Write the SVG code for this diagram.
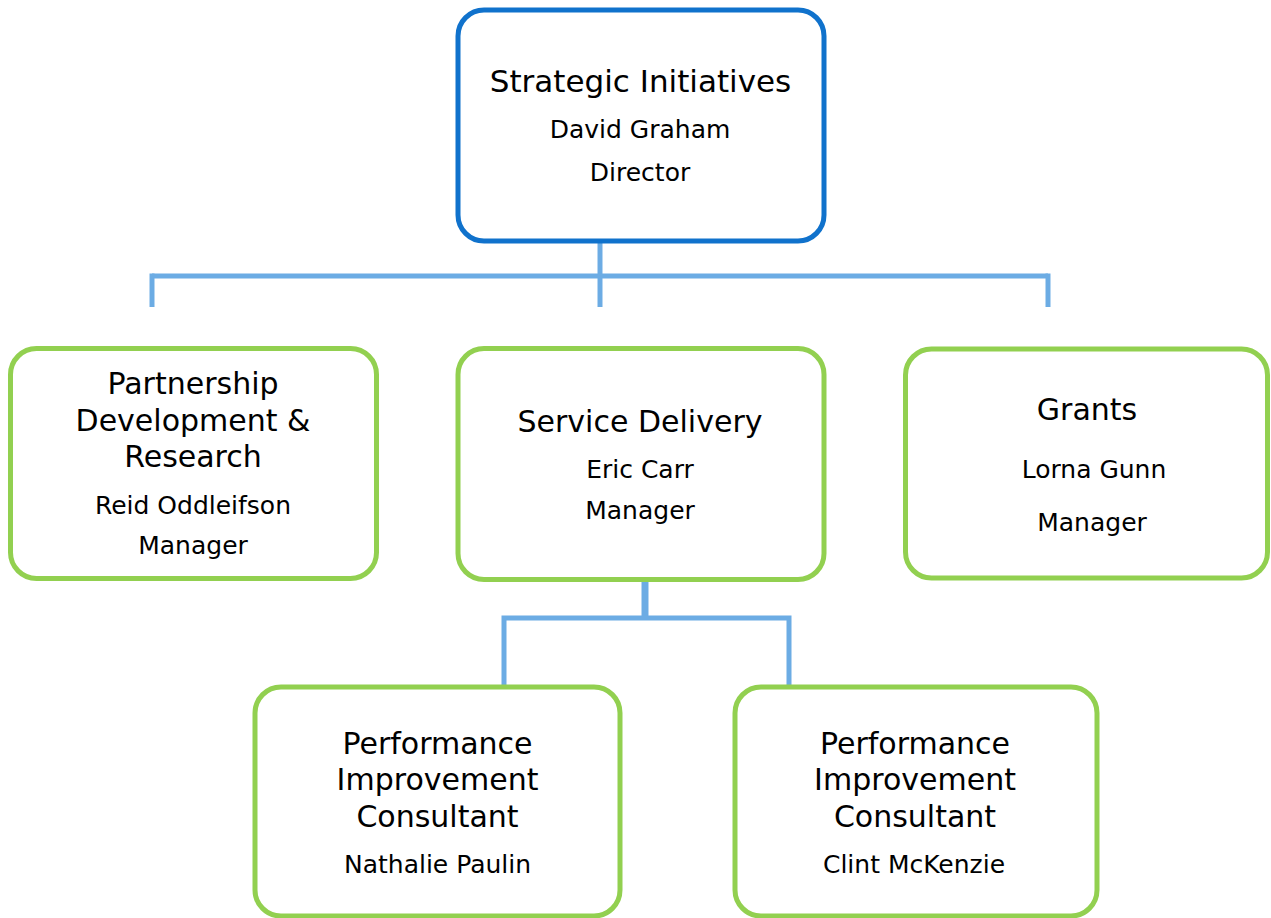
<svg xmlns="http://www.w3.org/2000/svg" width="1271" height="918" viewBox="0 0 1271 918">
  <style>
    .box { fill: #ffffff; stroke-width: 5; }
    .head { stroke: #1072CC; }
    .unit { stroke: #92D050; }
    .title { font-family: "DejaVu Sans", Verdana, sans-serif; font-size: 30px; fill: #000; text-anchor: middle; }
    .name { font-family: "DejaVu Sans", Verdana, sans-serif; font-size: 25px; fill: #000; text-anchor: middle; }
    .link { stroke: #6CACE4; stroke-width: 5; fill: none; }
    .trace { stroke: #6CACE4; stroke-width: 4; stroke-dasharray: 2 2; opacity: 0.4; fill: none; }
  </style>

  <!-- connectors -->
  <g id="connectors">
    <line class="trace" x1="600" y1="207" x2="600" y2="239"/>
    <line class="link" x1="600" y1="242" x2="600" y2="307"/>
    <line class="link" x1="152" y1="276" x2="1048" y2="276"/>
    <line class="link" x1="152" y1="273.5" x2="152" y2="307"/>
    <line class="link" x1="1048" y1="273.5" x2="1048" y2="307"/>

    <line class="trace" x1="645" y1="547" x2="645" y2="577"/>
    <line class="link" x1="645" y1="580" x2="645" y2="618" style="stroke-width:7"/>
    <polyline class="link" points="504,686 504,618 789,618 789,686"/>
  </g>

  <!-- director -->
  <g id="strategic-initiatives">
    <rect class="box head" x="458" y="10" width="366" height="231" rx="26"/>
    <text class="title" x="640.5" y="92" style="font-size:31px">Strategic Initiatives</text>
    <text class="name" x="640" y="138">David Graham</text>
    <text class="name" x="640" y="181">Director</text>
  </g>

  <!-- managers -->
  <g id="partnership-development">
    <rect class="box unit" x="10.5" y="348.5" width="366" height="230" rx="26"/>
    <text class="title" x="193" y="394">Partnership</text>
    <text class="title" x="193" y="431">Development &amp;</text>
    <text class="title" x="193" y="467">Research</text>
    <text class="name" x="193" y="514">Reid Oddleifson</text>
    <text class="name" x="193" y="554">Manager</text>
  </g>

  <g id="service-delivery">
    <rect class="box unit" x="458" y="348.5" width="366" height="231" rx="26"/>
    <text class="title" x="640" y="432">Service Delivery</text>
    <text class="name" x="640" y="478">Eric Carr</text>
    <text class="name" x="640" y="519">Manager</text>
  </g>

  <g id="grants">
    <rect class="box unit" x="905.5" y="349" width="362" height="229" rx="26"/>
    <text class="title" x="1087" y="420">Grants</text>
    <text class="name" x="1094" y="478">Lorna Gunn</text>
    <text class="name" x="1092" y="531">Manager</text>
  </g>

  <!-- consultants -->
  <g id="consultant-paulin">
    <rect class="box unit" x="255" y="687" width="365" height="229" rx="26"/>
    <text class="title" x="437.5" y="754">Performance</text>
    <text class="title" x="437.5" y="790">Improvement</text>
    <text class="title" x="437.5" y="827">Consultant</text>
    <text class="name" x="437.5" y="873">Nathalie Paulin</text>
  </g>

  <g id="consultant-mckenzie">
    <rect class="box unit" x="735" y="687" width="362" height="229" rx="26"/>
    <text class="title" x="915" y="754">Performance</text>
    <text class="title" x="915" y="790">Improvement</text>
    <text class="title" x="915" y="827">Consultant</text>
    <text class="name" x="914" y="873">Clint McKenzie</text>
  </g>
</svg>
